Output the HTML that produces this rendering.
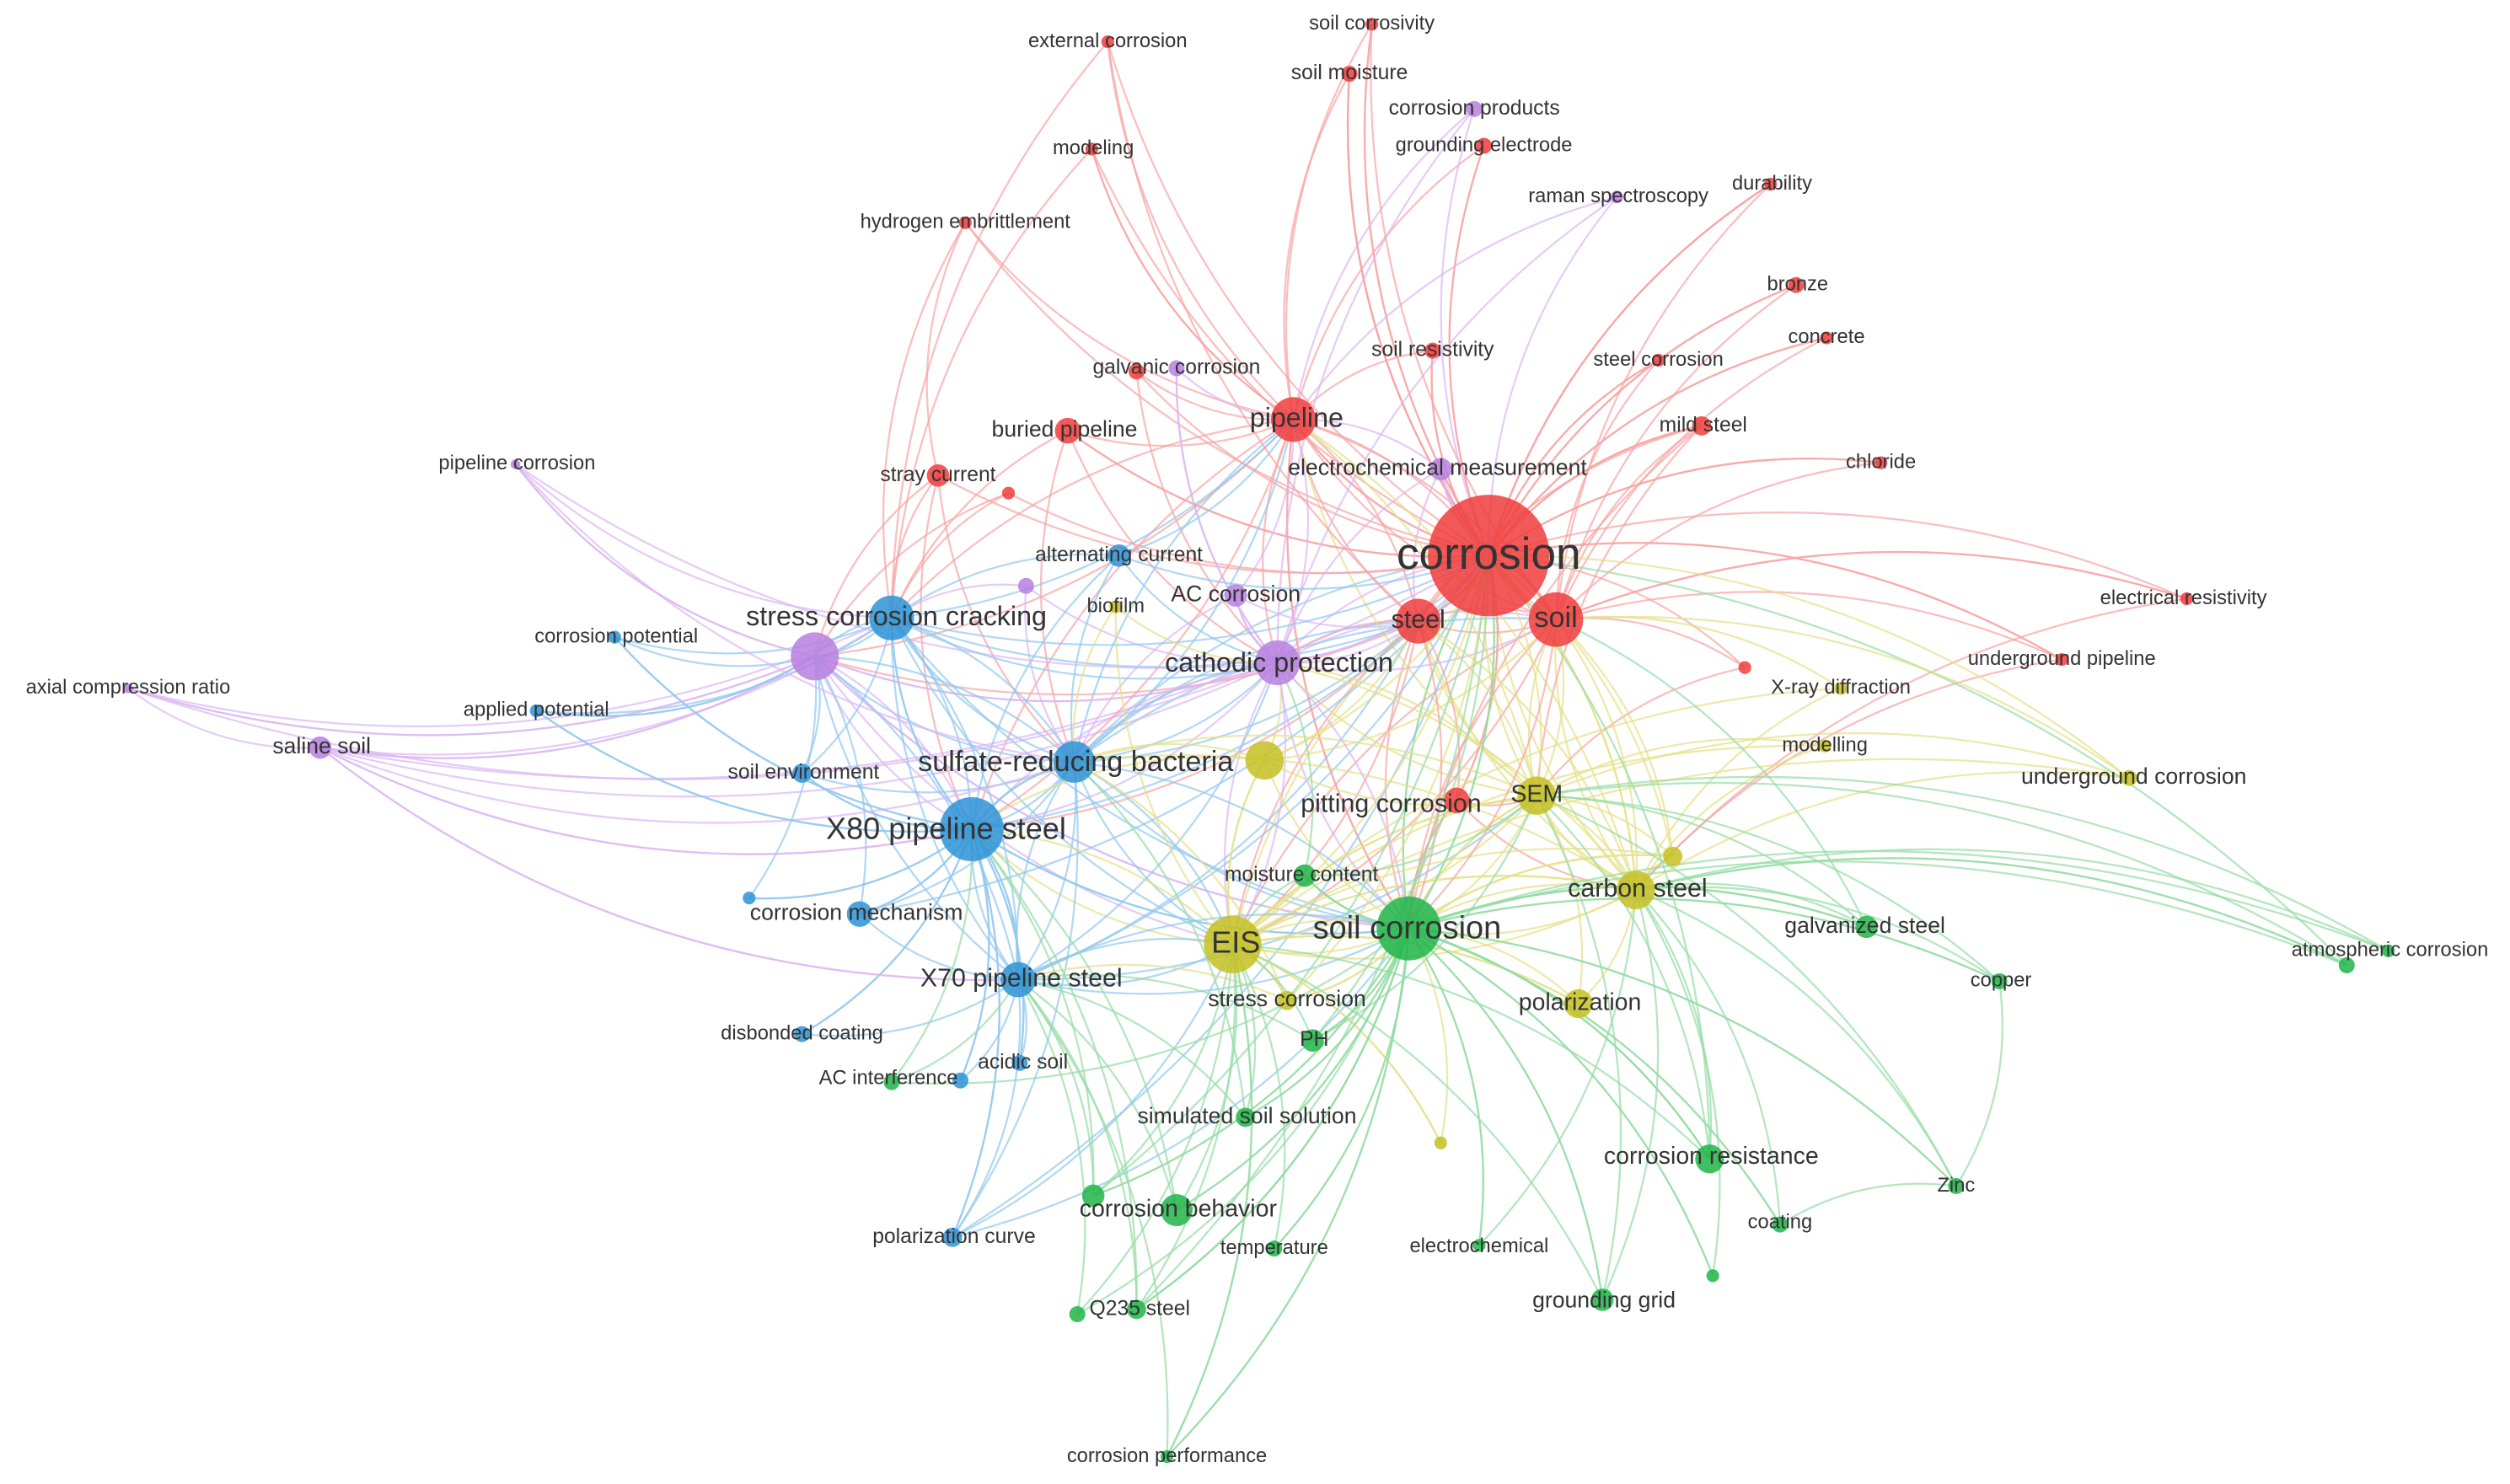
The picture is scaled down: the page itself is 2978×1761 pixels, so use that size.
<!DOCTYPE html>
<html><head><meta charset="utf-8"><style>
html,body{margin:0;padding:0;background:#fff;}
svg{display:block}
text{font-family:"Liberation Sans",Arial,sans-serif;fill:#333;text-anchor:middle;dominant-baseline:middle}
</style></head><body>
<svg id="s" width="2978" height="1761" viewBox="0 0 1568 927" xmlns="http://www.w3.org/2000/svg">
<g id="edges" fill="none" stroke-width="1.2"></g>
<g id="nodes"></g>
<g id="labels">
<text x="930" y="348" font-size="28">corrosion</text>
<text x="972" y="387" font-size="18">soil</text>
<text x="886" y="388" font-size="16">steel</text>
<text x="810" y="262" font-size="17">pipeline</text>
<text x="665" y="269" font-size="14">buried pipeline</text>
<text x="586" y="297" font-size="13">stray current</text>
<text x="735" y="230" font-size="13">galvanic corrosion</text>
<text x="692" y="26" font-size="12.5">external corrosion</text>
<text x="683" y="93" font-size="12.5">modeling</text>
<text x="603" y="139" font-size="12.5">hydrogen embrittlement</text>
<text x="857" y="15" font-size="12.5">soil corrosivity</text>
<text x="843" y="46" font-size="13">soil moisture</text>
<text x="921" y="68" font-size="13">corrosion products</text>
<text x="927" y="91" font-size="12.5">grounding electrode</text>
<text x="1011" y="123" font-size="12.5">raman spectroscopy</text>
<text x="1107" y="115" font-size="12.5">durability</text>
<text x="1123" y="178" font-size="12.5">bronze</text>
<text x="1141" y="211" font-size="12.5">concrete</text>
<text x="895" y="219" font-size="13">soil resistivity</text>
<text x="1036" y="225" font-size="12.5">steel corrosion</text>
<text x="1064" y="266" font-size="13">mild steel</text>
<text x="1175" y="289" font-size="12.5">chloride</text>
<text x="898" y="293" font-size="14">electrochemical measurement</text>
<text x="323" y="290" font-size="12.5">pipeline corrosion</text>
<text x="699" y="347" font-size="13">alternating current</text>
<text x="772" y="372" font-size="14">AC corrosion</text>
<text x="697" y="379" font-size="12.5">biofilm</text>
<text x="560" y="386" font-size="17">stress corrosion cracking</text>
<text x="799" y="415" font-size="17">cathodic protection</text>
<text x="1364" y="374" font-size="12.5">electrical resistivity</text>
<text x="1288" y="412" font-size="12.5">underground pipeline</text>
<text x="1150" y="430" font-size="12.5">X-ray diffraction</text>
<text x="1140" y="466" font-size="12.5">modelling</text>
<text x="1333" y="486" font-size="14">underground corrosion</text>
<text x="385" y="398" font-size="12.5">corrosion potential</text>
<text x="80" y="430" font-size="12.5">axial compression ratio</text>
<text x="335" y="444" font-size="12.5">applied potential</text>
<text x="201" y="467" font-size="14">saline soil</text>
<text x="502" y="483" font-size="13">soil environment</text>
<text x="672" y="477" font-size="18">sulfate-reducing bacteria</text>
<text x="869" y="503" font-size="16">pitting corrosion</text>
<text x="960" y="497" font-size="15">SEM</text>
<text x="591" y="519" font-size="19">X80 pipeline steel</text>
<text x="813" y="547" font-size="13">moisture content</text>
<text x="1023" y="556" font-size="16">carbon steel</text>
<text x="535" y="571" font-size="14">corrosion mechanism</text>
<text x="879" y="581" font-size="20">soil corrosion</text>
<text x="772" y="590" font-size="19">EIS</text>
<text x="1165" y="579" font-size="14">galvanized steel</text>
<text x="1493" y="594" font-size="12.5">atmospheric corrosion</text>
<text x="638" y="612" font-size="16">X70 pipeline steel</text>
<text x="1250" y="613" font-size="12.5">copper</text>
<text x="804" y="625" font-size="14">stress corrosion</text>
<text x="987" y="627" font-size="15">polarization</text>
<text x="501" y="646" font-size="12.5">disbonded coating</text>
<text x="821" y="650" font-size="13">PH</text>
<text x="639" y="664" font-size="13">acidic soil</text>
<text x="555" y="674" font-size="12.5">AC interference</text>
<text x="779" y="698" font-size="14">simulated soil solution</text>
<text x="1069" y="723" font-size="15">corrosion resistance</text>
<text x="1222" y="741" font-size="12.5">Zinc</text>
<text x="736" y="756" font-size="15">corrosion behavior</text>
<text x="1112" y="764" font-size="12.5">coating</text>
<text x="596" y="773" font-size="13">polarization curve</text>
<text x="796" y="780" font-size="12.5">temperature</text>
<text x="924" y="779" font-size="12.5">electrochemical</text>
<text x="1002" y="813" font-size="14">grounding grid</text>
<text x="712" y="818" font-size="13">Q235 steel</text>
<text x="729" y="910" font-size="12.5">corrosion performance</text>
</g>
</svg>
<script>
var C={r:["#f03c3c","#f7a4a4"],p:["#b77fe0","#dcb6f2"],b:["#2d93d6","#92c8ee"],y:["#c6bf22","#e4e088"],g:["#1fb548","#94dca4"]};
var N={
corr:[930,347,38,"r"],soil:[972,387,17,"r"],steel:[886,388,14,"r"],pipe:[808,262,14,"r"],bur:[667,269,8,"r"],stray:[586,297,7,"r"],
galr:[710,232,5,"r"],ext:[692,26,4,"r"],mod:[682,93,4,"r"],hyd:[603,139,4,"r"],scv:[857,15,4,"r"],smo:[843,46,5,"r"],
ge:[927,91,5,"r"],dur:[1106,115,4,"r"],bro:[1122,178,5,"r"],con:[1141,211,4,"r"],sres:[895,219,5,"r"],stc:[1036,225,4,"r"],
mild:[1063,266,6,"r"],chl:[1175,289,4,"r"],eres:[1366,374,4,"r"],ugp:[1288,412,4,"r"],rd1:[630,308,4,"r"],rd2:[1090,417,4,"r"],pit:[910,500,8,"r"],
gal:[735,230,5,"p"],em:[900,293,7,"p"],cp:[921,68,5,"p"],ram:[1010,123,4,"p"],acc:[772,372,7,"p"],pc:[322,290,3,"p"],acr:[80,430,3,"p"],
sal:[200,467,7,"p"],scc:[509,410,15,"p"],cath:[798,414,14,"p"],pp:[641,366,5,"p"],
x80:[607,518,20,"b"],srb:[671,476,13,"b"],x70:[636,612,11,"b"],sccb:[557,386,14,"b"],cm:[537,571,8,"b"],se:[501,483,6,"b"],
cpot:[384,398,4,"b"],ap:[335,444,4,"b"],ac:[699,347,7,"b"],dc:[501,646,5,"b"],as:[637,664,5,"b"],aci:[600,675,5,"b"],pcur:[595,773,6,"b"],sb:[468,561,4,"b"],
eis:[770,590,18,"y"],sem:[960,497,12,"y"],cs:[1022,556,12,"y"],pol:[986,627,9,"y"],stcor:[804,625,6,"y"],bio:[697,379,4,"y"],xrd:[1150,430,4,"y"],
mdl:[1140,466,4,"y"],ugc:[1330,486,5,"y"],yn:[790,475,12,"y"],yn2:[1045,535,6,"y"],yn3:[900,714,4,"y"],
sco:[880,580,20,"g"],mc:[815,547,7,"g"],ph:[820,650,7,"g"],sss:[778,698,6,"g"],cr:[1068,724,9,"g"],cb:[735,756,10,"g"],cb2:[683,747,7,"g"],
tmp:[796,780,5,"g"],ec:[924,778,4,"g"],gg:[1001,812,7,"g"],q1:[710,818,6,"g"],q2:[673,821,5,"g"],cper:[729,910,4,"g"],gs:[1166,579,7,"g"],
cu:[1249,613,5,"g"],zn:[1222,741,5,"g"],coat:[1112,765,5,"g"],at1:[1466,603,5,"g"],at2:[1492,594,4,"g"],acig:[557,676,5,"g"],gn:[1070,797,4,"g"]};
var hubs=["corr","soil","steel","pipe","x80","srb","sco","eis","cath","sccb","scc","sem","cs","x70"];
var E=[];
var keys=Object.keys(N);
keys.forEach(function(k,i){
 var n=N[k];
 var d=hubs.filter(function(h){return h!=k}).map(function(h){var m=N[h];return [h,Math.hypot(m[0]-n[0],m[1]-n[1])]}).sort(function(a,b){return a[1]-b[1]});
 var cnt=n[2]>10?9:(n[2]>5?4:2);
 for(var j=0;j<cnt&&j<d.length;j++)E.push([k,d[j][0]]);
 var main={r:"corr",p:"cath",b:"x80",y:"eis",g:"sco"}[n[3]];
 if(main!=k)E.push([k,main]);
 if(k!="corr"&&i%2==0&&n[2]>5)E.push([k,"corr"]);
 if(k!="sco"&&i%3==0&&n[2]>5)E.push([k,"sco"]);
});
[["acr","scc"],["acr","sal"],["sal","scc"],["sal","x80"],["sal","srb"],["sal","x70"],["pc","scc"],["pc","srb"],["at1","corr"],["at1","cs"],["eres","soil"],["ugc","soil"],["ugc","corr"],["ugp","corr"],["cper","eis"],["cper","sco"],["zn","sco"],["zn","cu"],["cu","sco"],["zn","coat"],["ext","steel"],["mod","pipe"],["hyd","stray"],["scv","soil"],["smo","corr"],["dur","corr"],["cpot","x80"],["ap","x80"],["ap","scc"]].forEach(function(e){E.push(e)});
var g=document.getElementById("edges"),s="";
E.forEach(function(e,i){
 var a=N[e[0]],b=N[e[1]];if(!a||!b)return;
 var mx=(a[0]+b[0])/2,my=(a[1]+b[1])/2,dx=b[0]-a[0],dy=b[1]-a[1];
 var cx=mx-dy*0.18,cy=my+dx*0.18;
 var col=C[(a[2]<=b[2]?a:b)[3]][1];
 s+='<path d="M'+a[0]+' '+a[1]+'Q'+cx.toFixed(1)+' '+cy.toFixed(1)+' '+b[0]+' '+b[1]+'" stroke="'+col+'" stroke-opacity="0.7"/>';
});
g.innerHTML=s;
var ns="";
keys.sort(function(a,b){return N[a][2]-N[b][2]}).reverse().forEach(function(k){var n=N[k];ns+='<circle cx="'+n[0]+'" cy="'+n[1]+'" r="'+n[2]+'" fill="'+C[n[3]][0]+'" fill-opacity="0.85"/>';});
document.getElementById("nodes").innerHTML=ns;
</script>
</body></html>
